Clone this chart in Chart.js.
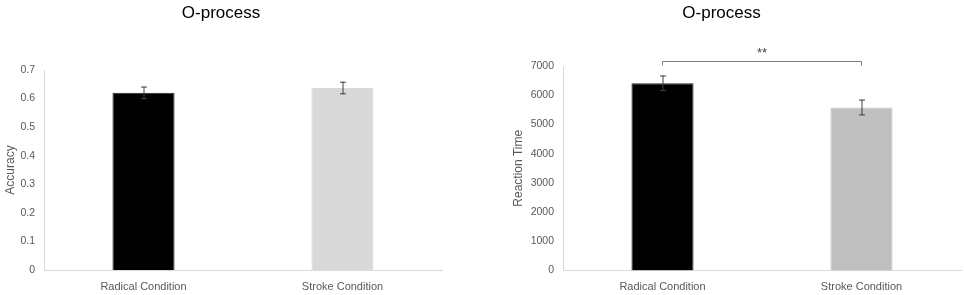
<!DOCTYPE html>
<html>
<head>
<meta charset="utf-8">
<script src="https://cdn.jsdelivr.net/npm/chart.js@4"></script>
<style>
  body { margin: 0; background: #fff; }
  .wrap { position: absolute; top: 0; width: 482px; height: 295px; }
  #left { left: 0; }
  #right { left: 482px; }
</style>
</head>
<body>
<div class="wrap" id="left"><canvas id="accChart" width="482" height="295"></canvas></div>
<div class="wrap" id="right"><canvas id="rtChart" width="482" height="295"></canvas></div>
<script>
// Données
const categories = ['Radical Condition', 'Stroke Condition'];
const accuracyMeans = [0.62, 0.637];
const accuracyErrors = [0.022, 0.022];
const rtMeans = [6410, 5580];
const rtErrors = [265, 270];
const significance = { from: 0, to: 1, value: 7170, label: '**' };

const tickColor = '#595959';
const axisColor = '#d9d9d9';

// Barres d'erreur dessinées à partir des échelles
const errorBarPlugin = {
    id: 'errorBars',
    afterDatasetsDraw(chart) {
        const ctx = chart.ctx;
        const y = chart.scales.y;
        chart.data.datasets.forEach((ds, di) => {
            if (!ds.errorBars) return;
            const meta = chart.getDatasetMeta(di);
            meta.data.forEach((bar, i) => {
                const v = ds.data[i], e = ds.errorBars[i];
                const top = y.getPixelForValue(v + e);
                const bot = y.getPixelForValue(v - e);
                ctx.save();
                ctx.strokeStyle = '#404040';
                ctx.lineWidth = 1;
                ctx.beginPath();
                ctx.moveTo(bar.x + 0.5, top); ctx.lineTo(bar.x + 0.5, bot);
                ctx.moveTo(bar.x - 2.5, top + 0.5); ctx.lineTo(bar.x + 3.5, top + 0.5);
                ctx.moveTo(bar.x - 2.5, bot - 0.5); ctx.lineTo(bar.x + 3.5, bot - 0.5);
                ctx.stroke();
                ctx.restore();
            });
        });
    }
};

// Accolade de significativité
const bracketPlugin = {
    id: 'bracket',
    afterDatasetsDraw(chart, args, opts) {
        if (!opts.show) return;
        const ctx = chart.ctx;
        const x1 = chart.scales.x.getPixelForValue(significance.from);
        const x2 = chart.scales.x.getPixelForValue(significance.to);
        const yy = Math.round(chart.scales.y.getPixelForValue(significance.value)) + 0.5;
        ctx.save();
        ctx.strokeStyle = '#7f7f7f';
        ctx.lineWidth = 1;
        ctx.beginPath();
        ctx.moveTo(x1, yy + 4); ctx.lineTo(x1, yy); ctx.lineTo(x2, yy); ctx.lineTo(x2, yy + 4);
        ctx.stroke();
        ctx.fillStyle = '#404040';
        ctx.font = '13px "Liberation Sans"';
        ctx.textAlign = 'center';
        ctx.textBaseline = 'middle';
        ctx.fillText(significance.label, (x1 + x2) / 2, yy - 8);
        ctx.restore();
    }
};

function makeChart(id, opts) {
    return new Chart(document.getElementById(id), {
        type: 'bar',
        data: {
            labels: categories,
            datasets: [{
                data: opts.values,
                errorBars: opts.errors,
                backgroundColor: opts.colors,
                borderColor: opts.borders,
                borderWidth: 1,
                categoryPercentage: 1,
                barPercentage: 0.312
            }]
        },
        options: {
            responsive: false,
            animation: false,
            layout: { padding: { left: opts.padLeft, right: opts.padRight, top: 0, bottom: 0 } },
            plugins: {
                legend: { display: false },
                tooltip: { enabled: false },
                title: {
                    display: true,
                    text: 'O-process',
                    color: '#000',
                    font: { family: '"Liberation Sans"', size: 17, weight: 'normal' },
                    padding: { top: 3, bottom: opts.titleGap }
                },
                bracket: { show: opts.bracket }
            },
            scales: {
                x: {
                    grid: { display: false },
                    border: { display: true, color: axisColor, width: 1 },
                    ticks: { color: tickColor, font: { family: '"Liberation Sans"', size: 11 }, padding: 2 },
                    afterFit(s) { s.height = opts.xHeight; }
                },
                y: {
                    min: 0,
                    max: opts.max,
                    grid: { display: false, drawTicks: false },
                    border: { display: true, color: axisColor, width: 1 },
                    ticks: { stepSize: opts.step, color: tickColor, padding: 9,
                             font: { family: '"Liberation Sans"', size: 10.5 },
                             callback: v => String(Math.round(v * 10) / 10) },
                    title: {
                        display: true,
                        text: opts.yTitle,
                        color: tickColor,
                        font: { family: '"Liberation Sans"', size: 12 },
                        padding: { top: opts.yTitlePad, bottom: 0 }
                    },
                    afterFit(s) { s.width = opts.yWidth; }
                }
            }
        },
        plugins: [errorBarPlugin, bracketPlugin]
    });
}

makeChart('accChart', {
    values: accuracyMeans, errors: accuracyErrors,
    colors: ['#000000', '#d9d9d9'], borders: ['#262626', '#d9d9d9'],
    max: 0.7, step: 0.1, yTitle: 'Accuracy',
    padLeft: 0, padRight: 40, yWidth: 44, yTitlePad: 3,
    titleGap: 46.6, xHeight: 25, bracket: false
});

makeChart('rtChart', {
    values: rtMeans, errors: rtErrors,
    colors: ['#000000', '#bfbfbf'], borders: ['#262626', '#bfbfbf'],
    max: 7000, step: 1000, yTitle: 'Reaction Time',
    padLeft: 0, padRight: 3, yWidth: 81, yTitlePad: 29,
    titleGap: 42.6, xHeight: 24.5, bracket: true
});
</script>
</body>
</html>
